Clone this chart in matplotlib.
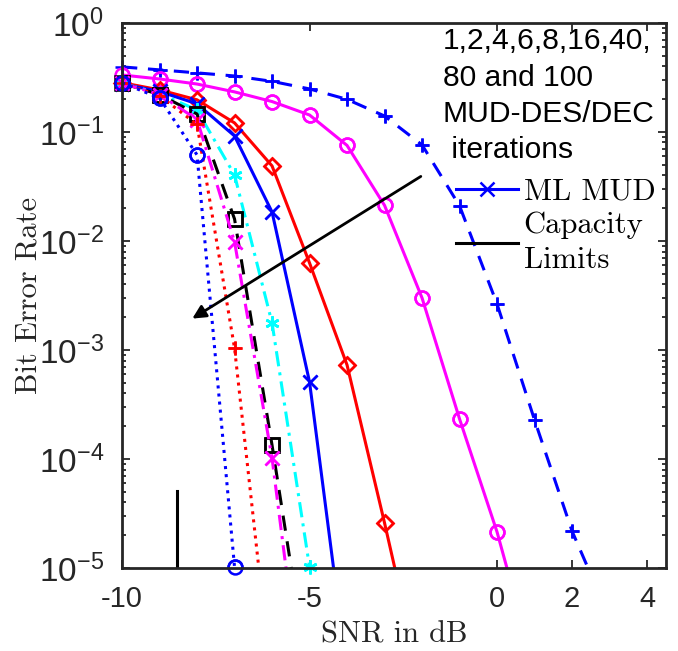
import numpy as np
import matplotlib
matplotlib.use('Agg')
from matplotlib import pyplot as plt
from matplotlib.ticker import LogLocator, NullFormatter

plt.rcParams['mathtext.fontset'] = 'custom'
plt.rcParams['mathtext.rm'] = 'Liberation Sans'
plt.rcParams['mathtext.it'] = 'Liberation Sans:italic'
plt.rcParams['axes.unicode_minus'] = False
plt.rcParams['font.family'] = 'Liberation Sans'

# BER vs SNR (dB)
snr = [-10, -9, -8, -7, -6, -5, -4, -3, -2, -1, 0, 1, 2, 3]

ber_it1 = [0.395, 0.371, 0.348, 0.326, 0.291, 0.248, 0.199, 0.140, 0.076, 0.021, 2.64e-3, 2.28e-4, 2.18e-5, 3.5e-6]
ber_it2 = [0.333, 0.306, 0.275, 0.233, 0.190, 0.143, 0.0752, 0.0212, 3.0e-3, 2.33e-4, 2.14e-5, 1.2e-6]
ber_it4 = [0.283, 0.243, 0.197, 0.121, 0.0488, 6.28e-3, 7.28e-4, 2.59e-5, 8e-7]
ber_ml = [0.276, 0.235, 0.181, 0.0918, 0.01845, 5.08e-4, 1.1e-6]
ber_it8 = [0.28, 0.225, 0.159, 0.0403, 1.77e-3, 1.02e-5]
ber_it16 = [0.28, 0.22, 0.146, 0.0159, 1.34e-4, 8.5e-7]
ber_it40 = [0.28, 0.22, 0.13, 9.8e-3, 1.02e-4, 2e-7]
ber_it80 = [0.28, 0.215, 0.117, 1.04e-3, 8e-7]
ber_it100 = [0.282, 0.205, 0.0615, 1.02e-5]

cap_snr = [-8.53, -8.53]
cap_ber = [1e-5, 5.1e-5]

BLUE, MAG, RED, CYAN = '#0000FF', '#FF00FF', '#FF0000', '#00FFFF'

curves = [
    (ber_it1, BLUE, (0, (5, 3.5)), '+'),
    (ber_it2, MAG, '-', 'o'),
    (ber_it4, RED, '-', 'D'),
    (ber_ml, BLUE, '-', 'x'),
    (ber_it8, CYAN, (0, (5, 2, 1, 2)), (6, 2, 0)),
    (ber_it16, 'k', (0, (5, 3.5)), 's'),
    (ber_it40, MAG, (0, (5, 2, 1, 2)), 'x'),
    (ber_it80, RED, ':', '+'),
    (ber_it100, BLUE, ':', 'o'),
]

fig = plt.figure(figsize=(6.78, 6.51), dpi=100)
ax = fig.add_axes([0.180, 0.1275, 0.802, 0.8373])

handles = {}
for ber, col, ls, mk in curves:
    x = np.array(snr[:len(ber)])
    y = np.array(ber)
    msize = 8 if mk == 'D' else 10
    ln, = ax.semilogy(x, y, color=col, linestyle=ls, linewidth=2.2, marker=mk,
                      markersize=msize, markeredgewidth=1.8, markerfacecolor='none')
    inside = y >= 1e-5
    ax.plot(x[inside], y[inside], linestyle='none', marker=mk, color=col,
            markersize=msize, markeredgewidth=1.8, markerfacecolor='none', clip_on=False)
    handles[id(ber)] = ln

cap, = ax.semilogy(cap_snr, cap_ber, color='k', linewidth=2.2)

ax.set_xlim(-10, 4.5)
ax.set_ylim(1e-5, 1)
ax.set_xticks([-10, -5, 0, 2, 4])
ax.set_xticklabels(['-10', '-5', '0', '2', '4'])
ax.yaxis.set_major_locator(LogLocator(base=10, numticks=10))
ax.yaxis.set_minor_locator(LogLocator(base=10, subs=np.arange(2, 10), numticks=20))
ax.yaxis.set_minor_formatter(NullFormatter())

ax.tick_params(which='both', direction='in', top=True, right=True, width=1.3,
               colors='#262626', labelcolor='#262626')
ax.tick_params(which='major', length=6)
ax.tick_params(which='minor', length=3)
ax.tick_params(axis='x', pad=12, labelsize=21)
ax.tick_params(axis='y', pad=13, labelsize=24)
for sp in ax.spines.values():
    sp.set_linewidth(2)
    sp.set_color('#262626')

ax.set_xlabel('SNR in dB', family='cmr10', fontsize=22, color='#262626', labelpad=6)
ax.set_ylabel('Bit Error Rate', family='cmr10', fontsize=22, color='#262626', labelpad=-3)

leg = ax.legend([handles[id(ber_ml)], cap], ['ML MUD', 'Capacity\nLimits'],
                loc='upper left', bbox_to_anchor=(0.615, 0.715), frameon=False,
                prop={'family': 'cmr10', 'size': 22}, handlelength=2.0,
                handletextpad=0.2, borderpad=0, borderaxespad=0, labelspacing=0.2)
for t in leg.get_texts():
    t.set_linespacing(1.35)

ax.text(0.59, 0.992, '1,2,4,6,8,16,40,\n80 and 100\nMUD-DES/DEC\n iterations',
        transform=ax.transAxes, ha='left', va='top', fontsize=21.6,
        family='Liberation Sans', linespacing=1.38)

ax.annotate('', xy=(-8.19, 1.88e-3), xytext=(-1.97, 0.0403),
            arrowprops=dict(arrowstyle='-|>', color='k', lw=2, mutation_scale=20))

fig.savefig('out.png', dpi=100)
